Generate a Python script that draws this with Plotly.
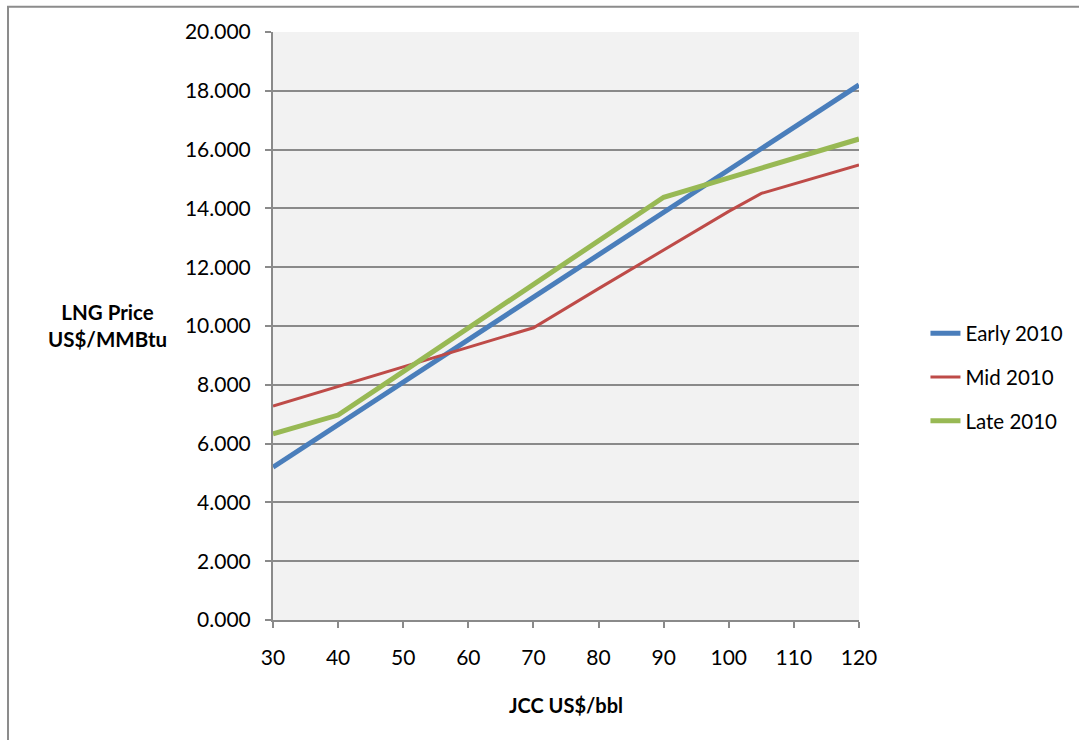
import plotly.graph_objects as go

# JCC crude price (US$/bbl) vs. LNG contract price (US$/MMBtu)
early_x = [30, 40, 50, 60, 70, 80, 90, 100, 110, 120]
early_y = [5.20, 6.64, 8.09, 9.53, 10.98, 12.42, 13.87, 15.31, 16.76, 18.20]

mid_x = [30, 40, 50, 60, 70, 80, 90, 100, 105, 110, 120]
mid_y = [7.28, 7.95, 8.61, 9.28, 9.94, 11.27, 12.59, 13.90, 14.51, 14.84, 15.48]

late_x = [30, 40, 50, 60, 70, 80, 90, 100, 110, 120]
late_y = [6.33, 6.97, 8.45, 9.93, 11.41, 12.90, 14.38, 15.04, 15.70, 16.36]

series = [
    ("Early 2010", early_x, early_y, "#4a7ebb", 5),
    ("Mid 2010", mid_x, mid_y, "#be4b48", 3),
    ("Late 2010", late_x, late_y, "#98b954", 5),
]

FONT = "Lato, 'Open Sans', sans-serif"
GRID = "#8a8a8a"

fig = go.Figure()
for name, xs, ys, color, width in series:
    fig.add_trace(go.Scatter(
        x=xs, y=ys, name=name, mode="lines", legendgroup=name,
        line=dict(color=color, width=width),
    ))

fig.update_layout(
    width=1079, height=740,
    margin=dict(l=273, r=220, t=32, b=120, autoexpand=False),
    paper_bgcolor="white",
    plot_bgcolor="#f2f2f2",
    font=dict(family=FONT, size=21, color="black"),
    showlegend=True,
    legend=dict(
        xref="container", yref="container",
        x=0.8577, y=0.4905, xanchor="left", yanchor="middle",
        font=dict(family=FONT, size=20.5, color="black"),
        tracegroupgap=14, bgcolor="rgba(0,0,0,0)",
    ),
    xaxis=dict(
        range=[30, 120], tickmode="linear", tick0=30, dtick=10,
        showgrid=False, zeroline=False,
        showline=True, linecolor=GRID, linewidth=2,
        ticks="outside", ticklen=6, tickwidth=2, tickcolor=GRID,
        ticklabelstandoff=12,
        tickfont=dict(family=FONT, size=21, color="black"),
    ),
    yaxis=dict(
        range=[0, 20], tickmode="linear", tick0=0, dtick=2, tickformat=".3f",
        showgrid=True, gridcolor=GRID, gridwidth=2, zeroline=False,
        showline=True, linecolor=GRID, linewidth=2,
        ticks="outside", ticklen=6, tickwidth=2, tickcolor=GRID,
        ticklabelstandoff=10,
        tickfont=dict(family=FONT, size=21, color="black"),
    ),
    shapes=[dict(
        type="rect", xref="paper", yref="paper",
        x0=-0.4522, x1=1.40, y0=-0.25, y1=1.0431,
        line=dict(color="#8c8c8c", width=2), fillcolor="rgba(0,0,0,0)",
        layer="below",
    )],
    annotations=[
        dict(text="<b>LNG Price<br>US$/MMBtu</b>", xref="paper", yref="paper",
             x=-0.283, y=0.5003, xanchor="center", yanchor="middle",
             showarrow=False, align="center",
             font=dict(family=FONT, size=20.5, color="black")),
        dict(text="<b>JCC US$/bbl</b>", xref="paper", yref="paper",
             x=0.5, y=-0.1446, xanchor="center", yanchor="middle",
             showarrow=False,
             font=dict(family=FONT, size=20, color="black")),
    ],
)

fig.write_html("out.html")
